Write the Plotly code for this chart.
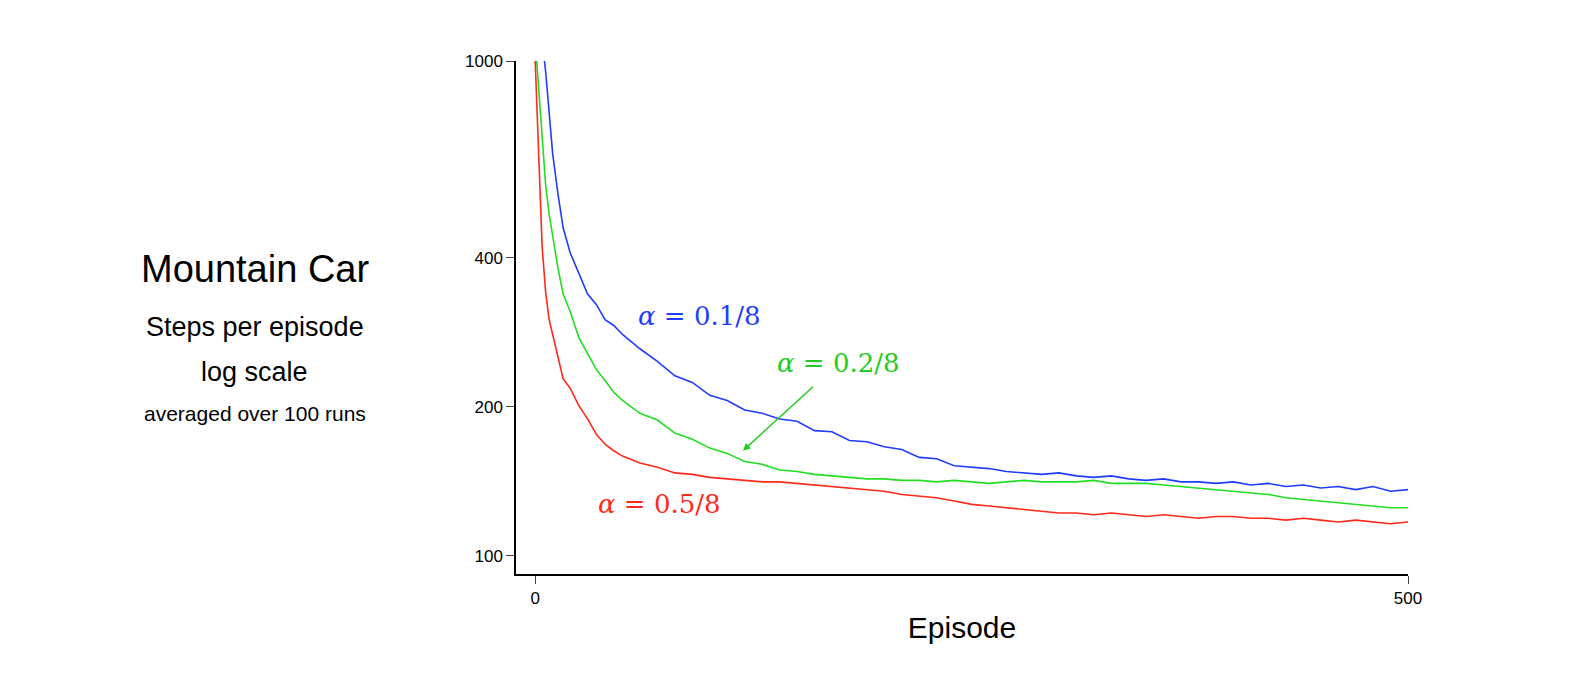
import math
import plotly.graph_objects as go

episodes = [0,2,4,6,8,10,13,16,20,25,30,35,40,45] + list(range(50, 501, 10))

blue = [1300,1200,1100,950,780,650,540,460,410,372,338,322,300,292,
        280,262,247,231,224,211,206,197,194,189,187,179,178,171,170,166,
        164,158,157,152,151,150,148,147,146,147,145,144,145,143,142,143,
        141,141,140,141,139,140,138,139,137,138,136,138,135,136]
green = [1100,880,680,560,490,440,382,338,312,276,256,238,226,214,
         206,194,188,177,172,165,161,155,153,149,148,146,145,144,143,143,
         142,142,141,142,141,140,141,142,141,141,141,142,140,140,140,139,
         138,137,136,135,134,133,131,130,129,128,127,126,125,125]
red = [1000,620,420,340,300,280,252,228,218,201,189,176,168,163,
       159,154,151,147,146,144,143,142,141,141,140,139,138,137,136,135,
       133,132,131,129,127,126,125,124,123,122,122,121,122,121,120,121,
       120,119,120,120,119,119,118,119,118,117,118,117,116,117]

series = [("α=0.1/8", blue, "#1f3cff"), ("α=0.2/8", green, "#22dd22"), ("α=0.5/8", red, "#ff2a1a")]

fig = go.Figure()
for name, vals, col in series:
    fig.add_trace(go.Scatter(x=episodes, y=vals, mode="lines", name=name,
                             line=dict(color=col, width=1.6), showlegend=False))

L = math.log10
mfont = dict(family="DejaVu Serif", size=26)
fig.add_annotation(x=94, y=L(305), text="<i>α</i> = 0.1/8", showarrow=False,
                   font=dict(mfont, color="#1f3cff"))
fig.add_annotation(x=174, y=L(245), text="<i>α</i> = 0.2/8", showarrow=False,
                   font=dict(mfont, color="#22cc22"))
fig.add_annotation(x=119, y=L(163), ax=160, ay=L(221), xref="x", yref="y", axref="x", ayref="y",
                   text="", showarrow=True, arrowhead=2, arrowcolor="#22cc22", arrowwidth=1.5)
fig.add_annotation(x=71, y=L(127), text="<i>α</i> = 0.5/8", showarrow=False,
                   font=dict(mfont, color="#ff2a1a"))

def lab(y, t, s):
    fig.add_annotation(xref="paper", yref="paper", x=-0.293, y=y, text=t, showarrow=False,
                       font=dict(family="Liberation Sans", size=s, color="black"),
                       xanchor="center", yanchor="middle")
lab(0.595, "Mountain Car", 38)
lab(0.482, "Steps per episode", 27)
lab(0.393, "log scale", 27)
lab(0.312, "averaged over 100 runs", 21)

fig.update_xaxes(range=[-11, 500], tickvals=[0, 500], ticks="outside", ticklen=8,
                 showline=True, linecolor="black", linewidth=1.5, showgrid=False, zeroline=False,
                 tickfont=dict(size=17, color="black"),
                 title=dict(text="Episode", font=dict(size=30, color="black"), standoff=10))
fig.update_yaxes(type="log", range=[1.963, 3], tickvals=[100, 200, 400, 1000], ticks="outside",
                 ticklen=8, showline=True, linecolor="black", linewidth=1.5, showgrid=False,
                 zeroline=False, tickfont=dict(size=17, color="black"))
fig.update_layout(width=1588, height=680, plot_bgcolor="white", paper_bgcolor="white",
                  margin=dict(l=508, r=188, t=53, b=114),
                  font=dict(family="Liberation Sans"))
fig.write_html("out.html")
